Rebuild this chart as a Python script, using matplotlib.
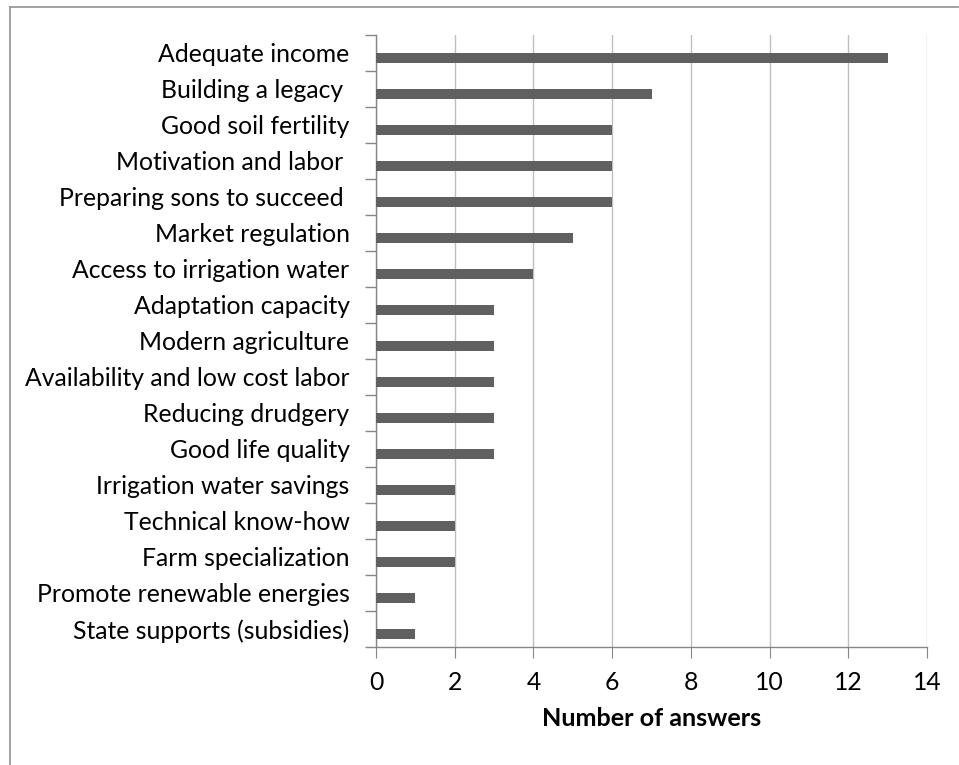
import numpy as np
import matplotlib.pyplot as plt
from matplotlib.lines import Line2D

categories = [
    "Adequate income",
    "Building a legacy ",
    "Good soil fertility",
    "Motivation and labor ",
    "Preparing sons to succeed ",
    "Market regulation",
    "Access to irrigation water",
    "Adaptation capacity",
    "Modern agriculture",
    "Availability and low cost labor",
    "Reducing drudgery",
    "Good life quality",
    "Irrigation water savings",
    "Technical know-how",
    "Farm specialization",
    "Promote renewable energies",
    "State supports (subsidies)",
]
answers = [13, 7, 6, 6, 6, 5, 4, 3, 3, 3, 3, 3, 2, 2, 2, 1, 1]
xticks = [0, 2, 4, 6, 8, 10, 12, 14]

plt.rcParams["font.family"] = ["Lato", "DejaVu Sans"]

fig = plt.figure(figsize=(9.59, 7.65), dpi=100)
ax = fig.add_axes([376 / 959, 1 - 647 / 765, 551 / 959, 612 / 765])

pos = np.arange(len(categories))
# excel style: second (empty) series leaves the bar shifted off the slot centre
ax.barh(pos + 0.143, answers, height=0.286, color="#606060", zorder=3)

ax.set_xlim(0, 14)
ax.set_ylim(len(categories) - 0.5, -0.5)
ax.set_xticks(xticks)
ax.set_yticks(pos)
ax.set_yticklabels(categories, fontsize=17.8)
ax.set_yticks(np.arange(-0.5, len(categories)), minor=True)
ax.tick_params(axis="y", which="major", length=0, pad=19)
ax.tick_params(axis="y", which="minor", length=8, color="#868686", width=1)
ax.tick_params(axis="x", length=8, color="#868686", labelsize=17.8, pad=9)

ax.grid(True, axis="x", color="#BFBFBF", linewidth=1, zorder=0)
for s in ["top", "right"]:
    ax.spines[s].set_visible(False)
for s in ["left", "bottom"]:
    ax.spines[s].set_color("#868686")
    ax.spines[s].set_linewidth(1)

ax.set_xlabel("Number of answers", fontsize=18.2, fontweight="bold", labelpad=10)

# outer chart border (only top and left visible in the crop)
fig.add_artist(Line2D([9.5 / 959, 9.5 / 959], [0, 1 - 6.5 / 765], transform=fig.transFigure, color="#9a9a9a", linewidth=1.3))
fig.add_artist(Line2D([9.5 / 959, 958 / 959], [1 - 6.5 / 765, 1 - 6.5 / 765], transform=fig.transFigure, color="#9a9a9a", linewidth=1.3))

fig.savefig("out.png", dpi=100)
